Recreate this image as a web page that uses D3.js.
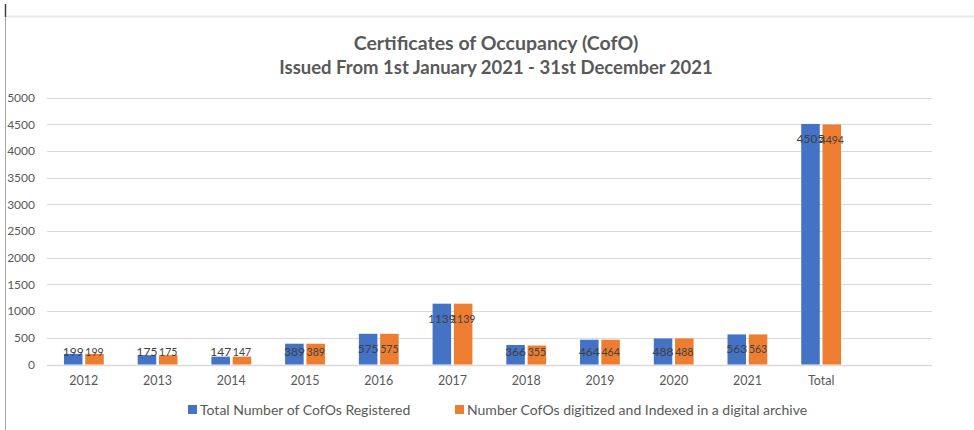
<!DOCTYPE html>
<html>
<head>
<meta charset="utf-8">
<script src="https://cdn.jsdelivr.net/npm/d3@7"></script>
<style>
  body { margin: 0; background: #fff; }
  svg text { font-family: Lato, "Open Sans", sans-serif; }
</style>
</head>
<body>
<div id="myDiv"></div>
<script>
// chart data
var categories = ['2012', '2013', '2014', '2015', '2016', '2017', '2018', '2019', '2020', '2021', 'Total'];
var registered = [199, 175, 147, 389, 575, 1139, 366, 464, 488, 563, 4505];
var digitized = [199, 175, 147, 389, 575, 1139, 355, 464, 488, 563, 4494];
var seriesNames = ['Total Number of CofOs Registered', 'Number CofOs digitized and Indexed in a digital archive'];
var yTicks = [0, 500, 1000, 1500, 2000, 2500, 3000, 3500, 4000, 4500, 5000];

var blue = '#4472C4';
var orange = '#ED7D31';
var gridColor = '#D9D9D9';
var textColor = '#595959';

var width = 974, height = 430;
var plot = {left: 47, right: 932, top: 97.5, bottom: 364.5, bandEnd: 858};

var svg = d3.select('#myDiv').append('svg')
  .attr('width', width)
  .attr('height', height);

// frame bits from the screenshot
svg.append('line').attr('x1', 7).attr('x2', width).attr('y1', 16.5).attr('y2', 16.5)
  .attr('stroke', '#E8E8E8').attr('stroke-width', 2);
svg.append('line').attr('x1', 5.5).attr('x2', 5.5).attr('y1', 17).attr('y2', height)
  .attr('stroke', '#A6A6A6').attr('stroke-width', 1);
svg.append('line').attr('x1', 5.5).attr('x2', 5.5).attr('y1', 4).attr('y2', 17)
  .attr('stroke', '#404040').attr('stroke-width', 1.5);

// title
svg.append('text').attr('x', 496).attr('y', 50)
  .attr('text-anchor', 'middle').attr('font-size', 19.5).attr('font-weight', 'bold')
  .attr('fill', textColor).text('Certificates of Occupancy (CofO)');
svg.append('text').attr('x', 496).attr('y', 74)
  .attr('text-anchor', 'middle').attr('font-size', 18.5).attr('font-weight', 'bold')
  .attr('fill', textColor).text('Issued From 1st January 2021 - 31st December 2021');

var y = d3.scaleLinear().domain([0, 5000]).range([plot.bottom, plot.top]);
var x0 = d3.scaleBand().domain(categories).range([plot.left, plot.bandEnd]).paddingInner(0.46).paddingOuter(0.23);
var x1 = d3.scaleBand().domain([0, 1]).range([0, x0.bandwidth()]).paddingInner(0.13);

// gridlines
svg.append('g').selectAll('line').data(yTicks).enter().append('line')
  .attr('x1', plot.left).attr('x2', plot.right)
  .attr('y1', function (d) { return Math.round(y(d)) + 0.5; })
  .attr('y2', function (d) { return Math.round(y(d)) + 0.5; })
  .attr('stroke', gridColor).attr('stroke-width', function (d) { return d === 0 ? 1.5 : 1; });

// y axis labels
var yAxis = d3.axisLeft(y).tickValues(yTicks).tickFormat(d3.format('d')).tickSize(0).tickPadding(0);
svg.append('g').attr('transform', 'translate(35,0)').call(yAxis)
  .call(function (g) { g.select('.domain').remove(); })
  .selectAll('text').attr('font-size', 12).attr('fill', textColor)
  .attr('font-family', 'Lato, sans-serif');

// x axis labels
var xAxis = d3.axisBottom(x0).tickSize(0).tickPadding(0);
svg.append('g').attr('transform', 'translate(0,376)').call(xAxis)
  .call(function (g) { g.select('.domain').remove(); })
  .selectAll('text').attr('font-size', 12.5).attr('fill', textColor)
  .attr('font-family', 'Lato, sans-serif');

// bars
var rows = categories.map(function (c, i) {
  return {cat: c, vals: [registered[i], digitized[i]]};
});
var groups = svg.append('g').selectAll('g').data(rows).enter().append('g')
  .attr('transform', function (d) { return 'translate(' + x0(d.cat) + ',0)'; });

groups.selectAll('rect').data(function (d) { return d.vals; }).enter().append('rect')
  .attr('x', function (d, i) { return x1(i); })
  .attr('width', x1.bandwidth())
  .attr('y', function (d) { return y(d); })
  .attr('height', function (d) { return y(0) - y(d); })
  .attr('fill', function (d, i) { return i === 0 ? blue : orange; });

// data labels, inside end, kept above the base
groups.selectAll('text.lbl').data(function (d) { return d.vals; }).enter().append('text')
  .attr('class', 'lbl')
  .attr('x', function (d, i) { return x1(i) + x1.bandwidth() / 2; })
  .attr('y', function (d) { return Math.min(y(d) + 15, y(0) - 13) + 4; })
  .attr('text-anchor', 'middle')
  .attr('font-size', function (d, i) { return i === 0 ? 12 : 10.5; })
  .attr('fill', '#404040')
  .text(function (d) { return d; });

// legend
var legend = [{x: 188, name: seriesNames[0], color: blue}, {x: 455, name: seriesNames[1], color: orange}];
var lg = svg.append('g').selectAll('g').data(legend).enter().append('g')
  .attr('transform', function (d) { return 'translate(' + d.x + ',405)'; });
lg.append('rect').attr('width', 9).attr('height', 9).attr('fill', function (d) { return d.color; });
lg.append('text').attr('x', 12).attr('y', 9.5).attr('font-size', 14).attr('fill', textColor)
  .text(function (d) { return d.name; });
</script>
</body>
</html>
